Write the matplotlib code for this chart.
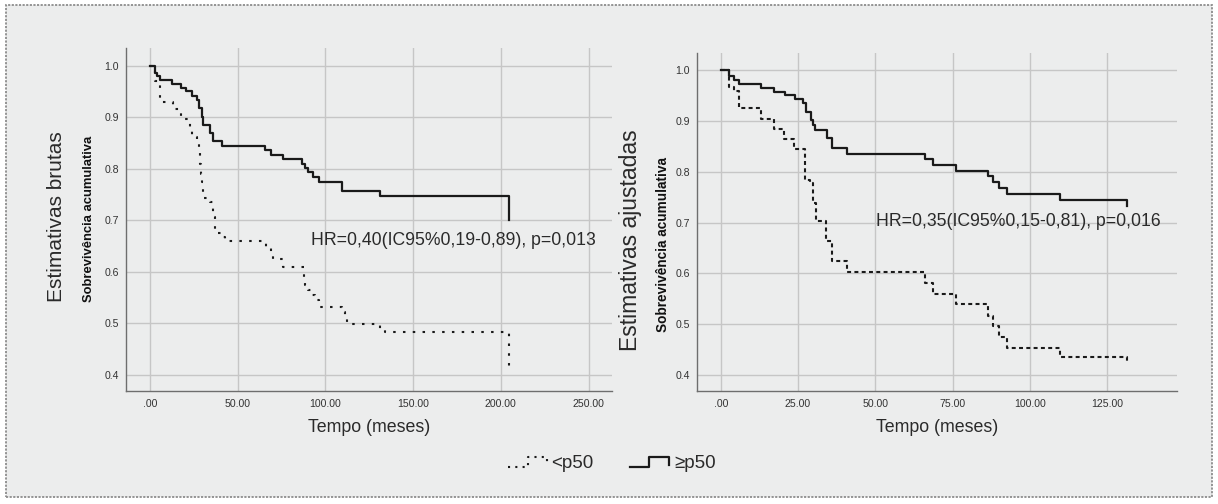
import matplotlib
matplotlib.use("Agg")
import matplotlib.pyplot as plt
from matplotlib import font_manager
from matplotlib.lines import Line2D
from matplotlib.patches import Rectangle

W, H = 1218, 504

# Kaplan-Meier estimates, crude model (months, cumulative survival)
t_crude_low = [0, 2.9, 5.7, 12.9, 17.7, 22.5, 23.8, 26.6, 27.7, 28.5,
               29.1, 29.5, 30.4, 33.9, 35.7, 37.1, 40.9, 42.8, 66.1, 68.8,
               70.3, 75.8, 87.5, 88.4, 90.3, 92.5, 94.1, 96.6, 109.7, 111.2,
               112.2, 131.1, 134.0, 204.9]
s_crude_low = [1.0, 0.970, 0.930, 0.915, 0.897, 0.879, 0.862, 0.853, 0.838, 0.810,
               0.790, 0.775, 0.743, 0.736, 0.707, 0.675, 0.667, 0.659, 0.646, 0.636,
               0.625, 0.609, 0.591, 0.575, 0.565, 0.555, 0.546, 0.531, 0.523, 0.510,
               0.499, 0.489, 0.484, 0.4135]
t_crude_high = [0, 2.9, 4.2, 5.7, 12.7, 17.5, 20.5, 23.8, 26.6, 28.0, 29.5, 30.4, 34.2,
                36.1, 40.9, 65.8, 68.8, 75.6, 86.4, 88.4, 90.3, 93.1, 96.4, 109.7,
                131.1, 204.9]
s_crude_high = [1.0, 0.986, 0.980, 0.972, 0.965, 0.957, 0.950, 0.942, 0.934, 0.918,
                0.901, 0.885, 0.870, 0.854, 0.844, 0.837, 0.827, 0.819, 0.809, 0.801,
                0.793, 0.784, 0.774, 0.756, 0.747, 0.700]

# adjusted model
t_adj_low = [0, 2.7, 4.4, 5.8, 13.0, 17.2, 20.6, 23.8, 27.3, 28.9, 29.9, 30.8,
             34.0, 35.9, 40.7, 66.1, 68.7, 76.0, 86.5, 87.9, 90.1, 92.7, 109.7, 131.3]
s_adj_low = [1.0, 0.967, 0.958, 0.925, 0.904, 0.884, 0.865, 0.845, 0.784, 0.778,
             0.738, 0.702, 0.663, 0.624, 0.603, 0.581, 0.560, 0.539, 0.516, 0.496,
             0.475, 0.454, 0.435, 0.421]
t_adj_high = [0, 2.7, 4.4, 5.9, 13.0, 17.2, 20.8, 24.0, 26.5, 27.6, 29.1, 29.9, 30.5,
              34.3, 35.9, 40.7, 66.1, 68.7, 76.0, 86.5, 87.9, 90.1, 92.7, 109.7, 131.3]
s_adj_high = [1.0, 0.988, 0.980, 0.972, 0.965, 0.957, 0.950, 0.942, 0.935, 0.918,
              0.902, 0.892, 0.882, 0.866, 0.846, 0.835, 0.825, 0.813, 0.802, 0.791,
              0.779, 0.768, 0.756, 0.744, 0.732]

xticks_crude = [0, 50, 100, 150, 200, 250]
xlabels_crude = ['.00', '50.00', '100.00', '150.00', '200.00', '250.00']
xticks_adj = [0, 25, 50, 75, 100, 125]
xlabels_adj = ['.00', '25.00', '50.00', '75.00', '100.00', '125.00']
yticks = [0.4, 0.5, 0.6, 0.7, 0.8, 0.9, 1.0]
ylabels = ['0.4', '0.5', '0.6', '0.7', '0.8', '0.9', '1.0']

hr_crude = 'HR=0,40(IC95%0,19-0,89), p=0,013'
hr_adj = 'HR=0,35(IC95%0,15-0,81), p=0,016'
group_labels = ['<p50', '\u2265p50']

names = {f.name for f in font_manager.fontManager.ttflist}
NARROW = 'Liberation Sans Narrow' if 'Liberation Sans Narrow' in names else 'Liberation Sans'
plt.rcParams['font.family'] = ['Liberation Sans', 'DejaVu Sans']

BG = '#ECEDED'
GRID = '#C6C6C6'
INK = '#1a1a1a'


def fx(x):
    return x / W


def fy(y):
    return 1 - y / H


fig = plt.figure(figsize=(W / 100, H / 100), dpi=100)
fig.patch.set_facecolor('white')
fig.add_artist(Rectangle((fx(6), fy(497)), (1212 - 6) / W, (497 - 5) / H,
                         transform=fig.transFigure, facecolor=BG,
                         edgecolor='#8c8c8c', lw=1.3, linestyle=(0, (1.2, 0.8)),
                         zorder=-10))


def panel(box, t_lo, s_lo, t_hi, s_hi, xlim, ylim, xt, xl, lo_dash, hr, hr_xy):
    ax = fig.add_axes(box)
    ax.set_facecolor(BG)
    ax.plot(t_lo, s_lo, drawstyle='steps-post', color=INK, lw=1.5,
            linestyle=lo_dash)
    ax.plot(t_hi, s_hi, drawstyle='steps-post', color=INK, lw=1.6)
    ax.set_xlim(*xlim)
    ax.set_ylim(*ylim)
    ax.set_xticks(xt)
    ax.set_xticklabels(xl, family=NARROW, fontsize=7.6, color='#333333')
    ax.set_yticks(yticks)
    ax.set_yticklabels(ylabels, family=NARROW, fontsize=7.6, color='#333333')
    ax.tick_params(length=0)
    ax.tick_params(axis='x', pad=6)
    ax.tick_params(axis='y', pad=5)
    ax.grid(True, color=GRID, lw=1.0)
    ax.set_axisbelow(True)
    for side in ('top', 'right'):
        ax.spines[side].set_visible(False)
    for side in ('left', 'bottom'):
        ax.spines[side].set_color('#6e6e6e')
        ax.spines[side].set_linewidth(1.0)
    ax.text(hr_xy[0], hr_xy[1], hr, fontsize=12.7, color='#2a2a2a',
            ha='left', va='center')
    return ax


# left: crude estimates
panel([fx(125.7), fy(390.7), (612 - 125.7) / W, (390.7 - 48.3) / H],
      t_crude_low, s_crude_low, t_crude_high, s_crude_high,
      (-13.9, 263.4), (0.3696, 1.0337), xticks_crude, xlabels_crude,
      (0, (1.2, 3.5)), hr_crude, (91.8, 0.661))

# right: adjusted estimates
panel([fx(696.7), fy(391), (1177.3 - 696.7) / W, (391 - 52.7) / H],
      t_adj_low, s_adj_low, t_adj_high, s_adj_high,
      (-7.76, 147.6), (0.3686, 1.034), xticks_adj, xlabels_adj,
      (0, (1.9, 1.6)), hr_adj, (50.1, 0.702))

# axis titles
fig.text(fx(369), fy(427), 'Tempo (meses)', fontsize=12.8, color='#2a2a2a',
         ha='center', va='center')
fig.text(fx(937), fy(427), 'Tempo (meses)', fontsize=12.8, color='#2a2a2a',
         ha='center', va='center')
fig.text(fx(57), fy(217), 'Estimativas brutas', fontsize=15, color='#2a2a2a',
         rotation=90, ha='center', va='center')
fig.text(fx(89), fy(219), 'Sobrevivência acumulativa', fontsize=9.4,
         fontweight='bold', color='#111111', rotation=90, ha='center', va='center')
fig.text(fx(630), fy(240), 'Estimativas ajustadas', fontsize=16.5, color='#2a2a2a',
         rotation=90, ha='center', va='center')
fig.text(fx(663), fy(245), 'Sobrevivência acumulativa', fontsize=9.8,
         fontweight='bold', color='#111111', rotation=90, ha='center', va='center')

# legend: small step glyphs for each group
yb, yt = 467, 457
fig.add_artist(Line2D([fx(508), fx(527.5), fx(527.5), fx(546.5), fx(546.5)],
                      [fy(yb), fy(yb), fy(yt), fy(yt), fy(466)],
                      transform=fig.transFigure, color=INK, lw=1.5,
                      linestyle=(0, (1.0, 2.5))))
fig.add_artist(Line2D([fx(630), fx(649), fx(649), fx(669), fx(669)],
                      [fy(yb), fy(yb), fy(yt), fy(yt), fy(465)],
                      transform=fig.transFigure, color=INK, lw=1.6))
fig.text(fx(551), fy(463), group_labels[0], fontsize=13.5, color='#2a2a2a',
         ha='left', va='center')
fig.text(fx(674), fy(463), group_labels[1], fontsize=13.5, color='#2a2a2a',
         ha='left', va='center')

fig.savefig('out.png', dpi=100, facecolor=fig.get_facecolor())
